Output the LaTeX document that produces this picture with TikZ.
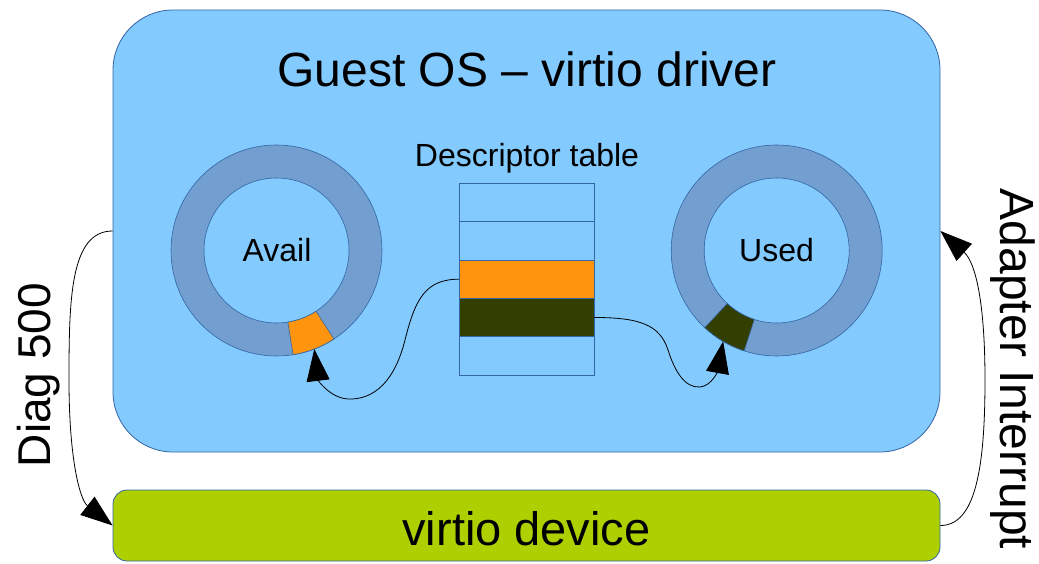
\documentclass[tikz,border=0pt]{standalone}
\usepackage{fontspec}
\setmainfont{Liberation Sans}
\usetikzlibrary{arrows.meta,calc}
\definecolor{guestfill}{HTML}{83CAFF}
\definecolor{edgeblue}{HTML}{3465A4}
\definecolor{ringfill}{HTML}{729FCF}
\definecolor{orangeseg}{HTML}{FF950E}
\definecolor{darkseg}{HTML}{333F00}
\definecolor{devfill}{HTML}{AECF00}
\tikzset{
  guestbox/.style={draw=edgeblue, line width=0.8pt, fill=guestfill, rounded corners=60pt, minimum width=827pt, minimum height=442pt, inner sep=0pt},
  devbox/.style={draw=edgeblue, line width=0.8pt, fill=devfill, rounded corners=14pt, minimum width=827pt, minimum height=71pt, inner sep=0pt},
  row/.style={draw=edgeblue, line width=0.8pt, minimum width=134.7pt, minimum height=38.33pt, inner sep=0pt},
  ringline/.style={draw=edgeblue, line width=0.6pt},
  conn/.style={draw=black, line width=0.8pt, -{Triangle[length=32pt,width=23pt]}},
  lbl/.style={inner sep=0pt, anchor=base},
}
\begin{document}
\begin{tikzpicture}[x=1pt,y=1pt]
\useasboundingbox (0,0) rectangle (1039,563);
% guest box
\node[guestbox] (guest) at (526.5,332) {};
\node[lbl, font=\fontsize{48}{56}\selectfont] (title) at (527,476) {Guest OS – virtio driver};
\node[lbl, font=\fontsize{32}{38}\selectfont] (desclbl) at (527,396) {Descriptor table};
% rings
\coordinate (availc) at (276.5,312.5);
\coordinate (usedc) at (776.7,312.5);
\foreach \c in {availc,usedc}{
  \fill[ringfill, even odd rule] (\c) circle[radius=105.5pt] (\c) circle[radius=72.5pt];
  \draw[ringline] (\c) circle[radius=105.5pt];
  \draw[ringline] (\c) circle[radius=72.5pt];
}
\draw[ringline, fill=orangeseg] ($(availc)+(-81:72.5pt)$) -- ($(availc)+(-81:105.5pt)$) arc[start angle=-81,end angle=-57,radius=105.5pt] -- ($(availc)+(-57:72.5pt)$) arc[start angle=-57,end angle=-81,radius=72.5pt] -- cycle;
\draw[ringline, fill=darkseg] ($(usedc)+(-133:72.5pt)$) -- ($(usedc)+(-133:105.5pt)$) arc[start angle=-133,end angle=-108,radius=105.5pt] -- ($(usedc)+(-108:72.5pt)$) arc[start angle=-108,end angle=-133,radius=72.5pt] -- cycle;
\node[lbl, font=\fontsize{32}{38}\selectfont] (availlbl) at (277,301.3) {Avail};
\node[lbl, font=\fontsize{32}{38}\selectfont] (usedlbl) at (776.5,301.3) {Used};
\coordinate (availtip) at ($(availc)+(-69:105.5pt)$);
\coordinate (usedtip) at ($(usedc)+(-120.5:105.5pt)$);
% descriptor table
\node[row, fill=guestfill] (r1) at (526.65,360.5) {};
\node[row, fill=guestfill] (r2) at (526.65,322.2) {};
\node[row, fill=orangeseg] (r3) at (526.65,283.8) {};
\node[row, fill=darkseg] (r4) at (526.65,245.5) {};
\node[row, fill=guestfill] (r5) at (526.65,207.2) {};
% inner connectors
\draw[conn] (r3.west) .. controls (425,283.8) and (415,263) .. (405,223) .. controls (395,183) and (375,163) .. (348,164) .. controls (330,165) and (318,183) .. (availtip);
\draw[conn] (r4.east) .. controls (640,245.5) and (660,238) .. (668,213) .. controls (675,191) and (685,175) .. (700,176) .. controls (712,177) and (718,193) .. (usedtip);
% device
\node[devbox] (dev) at (526.5,37.5) {};
\node[lbl, font=\fontsize{47}{56}\selectfont] (devlbl) at (526.5,18) {virtio device};
% outer connectors
\draw[conn] (guest.west) .. controls (70,332) and (69,263) .. (69,183) .. controls (69,103) and (80,63) .. (dev.west);
\draw[conn] (dev.east) .. controls (975,37.5) and (985,93) .. (985,183) .. controls (985,263) and (975,301) .. (guest.east);
\node[lbl, rotate=90, font=\fontsize{46}{54}\selectfont] (diaglbl) at (50,188) {Diag 500};
\node[lbl, rotate=-90, font=\fontsize{48}{56}\selectfont] (intlbl) at (1000,194) {Adapter Interrupt};
\end{tikzpicture}
\end{document}
